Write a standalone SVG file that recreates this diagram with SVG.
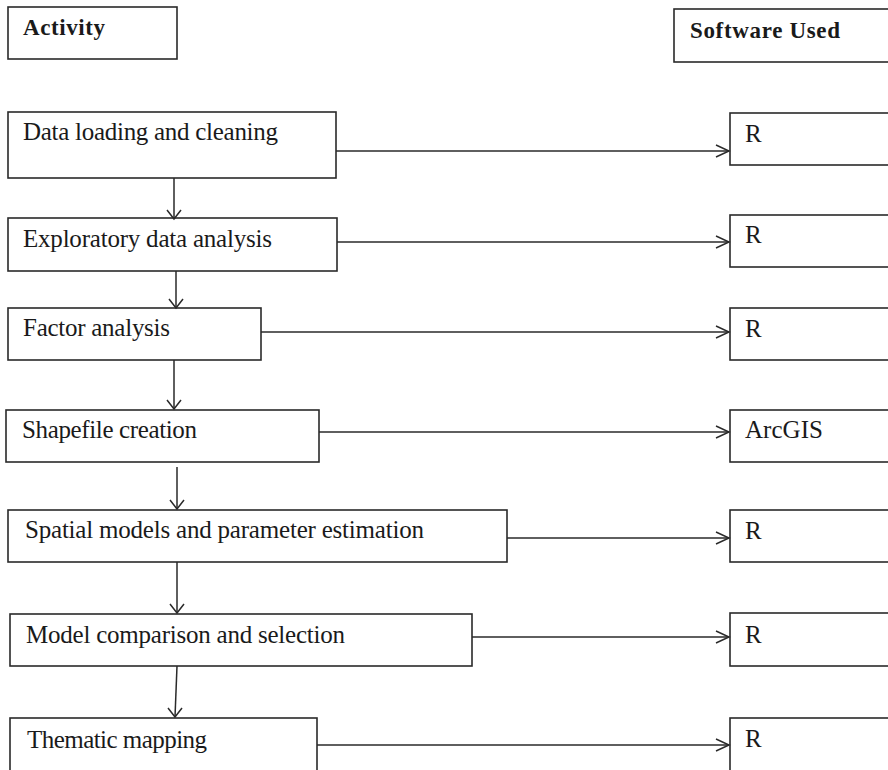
<svg xmlns="http://www.w3.org/2000/svg" width="888" height="770" viewBox="0 0 888 770">
<style>
.box{fill:#fff;stroke:#2a2a2a;stroke-width:1.6}
.t{font-family:"Liberation Serif","Times New Roman",serif;font-size:25px;fill:#1a1a1a}
.b{font-family:"Liberation Serif","Times New Roman",serif;font-size:23px;font-weight:bold;fill:#1a1a1a}
.c line,.c polyline{stroke:#2a2a2a;stroke-width:1.5;fill:none}
</style>
<rect width="888" height="770" fill="#fff"/>
<g id="hdr-activity"><rect class="box" x="8" y="7" width="169" height="52"/><text class="b" x="23" y="35" textLength="82">Activity</text></g>
<g id="hdr-software"><rect class="box" x="674" y="9" width="230" height="53"/><text class="b" x="690" y="38" textLength="150">Software Used</text></g>
<g id="a1"><rect class="box" x="8" y="112" width="328" height="66"/><text class="t" x="23" y="140" textLength="255">Data loading and cleaning</text></g>
<g id="a2"><rect class="box" x="8" y="218" width="329" height="53"/><text class="t" x="23" y="247" textLength="249">Exploratory data analysis</text></g>
<g id="a3"><rect class="box" x="8" y="308" width="253" height="52"/><text class="t" x="23" y="336" textLength="147">Factor analysis</text></g>
<g id="a4"><rect class="box" x="6" y="410" width="313" height="52"/><text class="t" x="22" y="438" textLength="175">Shapefile creation</text></g>
<g id="a5"><rect class="box" x="8" y="510" width="499" height="52"/><text class="t" x="25" y="538" textLength="399">Spatial models and parameter estimation</text></g>
<g id="a6"><rect class="box" x="10" y="614" width="462" height="52"/><text class="t" x="26" y="643" textLength="319">Model comparison and selection</text></g>
<g id="a7"><rect class="box" x="10" y="718" width="307" height="72"/><text class="t" x="27" y="748" textLength="180">Thematic mapping</text></g>
<g id="s1"><rect class="box" x="730" y="113" width="174" height="52"/><text class="t" x="745" y="142">R</text></g>
<g id="s2"><rect class="box" x="730" y="215" width="174" height="52"/><text class="t" x="745" y="243">R</text></g>
<g id="s3"><rect class="box" x="730" y="308" width="174" height="52"/><text class="t" x="745" y="337">R</text></g>
<g id="s4"><rect class="box" x="730" y="410" width="174" height="52"/><text class="t" x="745" y="438" textLength="78">ArcGIS</text></g>
<g id="s5"><rect class="box" x="730" y="510" width="174" height="52"/><text class="t" x="745" y="539">R</text></g>
<g id="s6"><rect class="box" x="730" y="613" width="174" height="53"/><text class="t" x="745" y="643">R</text></g>
<g id="s7"><rect class="box" x="730" y="718" width="174" height="72"/><text class="t" x="745" y="747">R</text></g>
<g id="connectors" class="c">
<line x1="174" y1="178" x2="174" y2="219"/><polyline points="167,210 174,219 181,210"/>
<line x1="176" y1="271" x2="176" y2="308"/><polyline points="169,299 176,308 183,299"/>
<line x1="174" y1="360" x2="174" y2="409"/><polyline points="167,400 174,409 181,400"/>
<line x1="177" y1="467" x2="177" y2="509"/><polyline points="170,500 177,509 184,500"/>
<line x1="177" y1="562" x2="177" y2="613"/><polyline points="170,604 177,613 184,604"/>
<line x1="177" y1="666" x2="175" y2="717"/><polyline points="168,708 175,717 182,708"/>
<line x1="336" y1="151" x2="729" y2="151"/><polyline points="716,145 729,151 716,157"/>
<line x1="337" y1="242" x2="729" y2="242"/><polyline points="716,236 729,242 716,248"/>
<line x1="261" y1="332" x2="729" y2="332"/><polyline points="716,326 729,332 716,338"/>
<line x1="319" y1="432" x2="729" y2="432"/><polyline points="716,426 729,432 716,438"/>
<line x1="507" y1="538" x2="729" y2="538"/><polyline points="716,532 729,538 716,544"/>
<line x1="472" y1="637" x2="729" y2="637"/><polyline points="716,631 729,637 716,643"/>
<line x1="317" y1="745" x2="729" y2="745"/><polyline points="716,739 729,745 716,751"/>
</g>
</svg>
